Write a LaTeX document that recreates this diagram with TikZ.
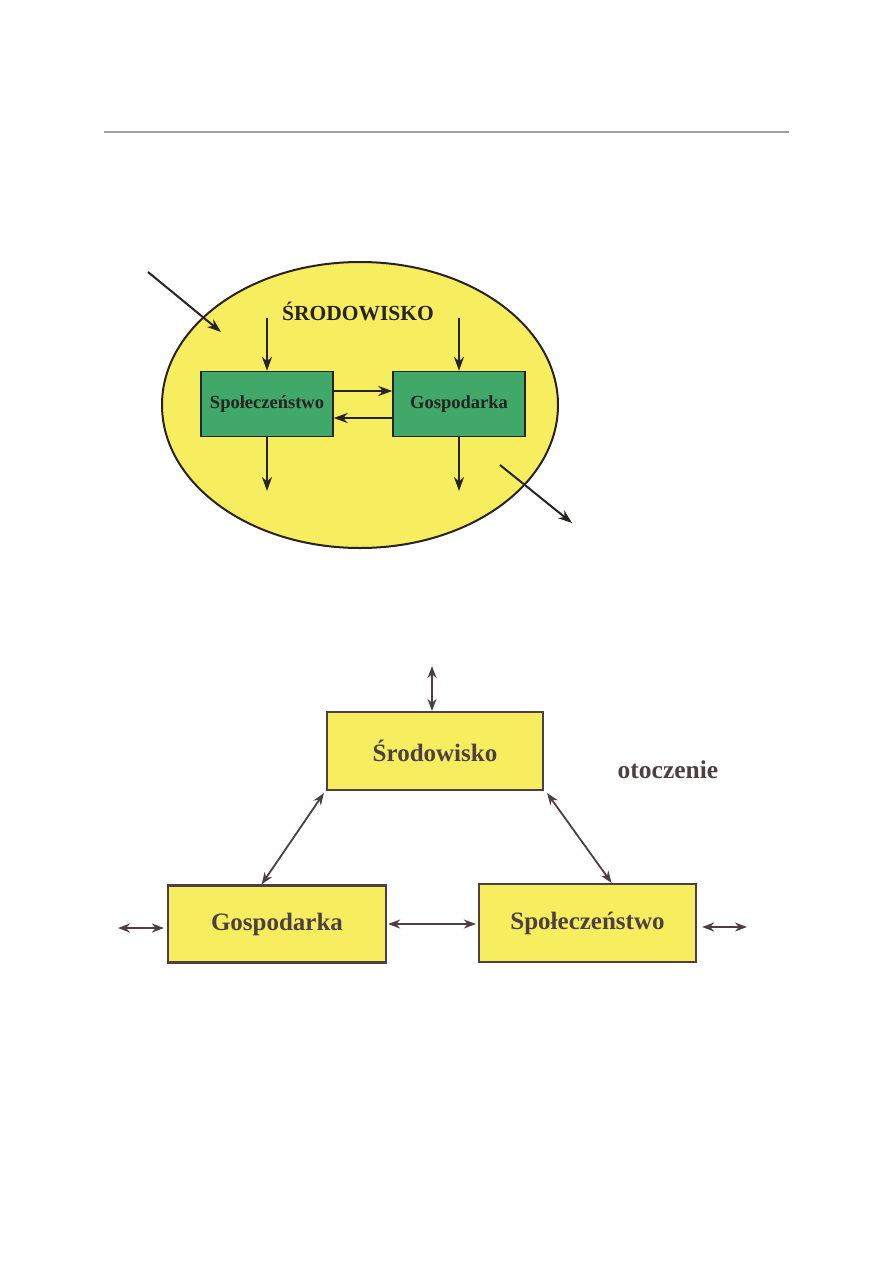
\documentclass[tikz,border=0pt]{standalone}
\usepackage{fontspec}
\setmainfont{Liberation Serif}
\usepackage{tikz}
\usetikzlibrary{arrows.meta, positioning, shapes.geometric, calc}

\definecolor{envyellow}{RGB}{247,238,95}
\definecolor{boxgreen}{RGB}{64,168,104}
\definecolor{darkink}{RGB}{40,34,34}
\definecolor{greyink}{RGB}{78,64,66}
\definecolor{rulegrey}{RGB}{160,160,160}

\begin{document}
\begin{tikzpicture}[
    x=1pt, y=-1pt,
    envnode/.style={ellipse, draw=darkink, fill=envyellow, line width=2pt, minimum width=396pt, minimum height=286pt},
    greenbox/.style={draw=darkink, fill=boxgreen, line width=1.4pt, minimum width=132pt, minimum height=65pt, inner sep=0pt, font=\fontsize{18.5}{20}\selectfont\bfseries, text=darkink},
    yellowbox/.style={draw=greyink, fill=envyellow, line width=2.2pt, minimum width=217pt, minimum height=78pt, inner sep=0pt, font=\fontsize{25}{27}\selectfont\bfseries, text=greyink},
    arrow/.style={-{Stealth[length=14pt, width=10pt]}, line width=2pt, darkink},
    twoway/.style={{Stealth[length=12pt, width=9pt]}-{Stealth[length=12pt, width=9pt]}, line width=1.8pt, greyink}
]
    \useasboundingbox (0,0) rectangle (893,1263);

    % rule at the head of the page
    \coordinate (ruleL) at (104,132);
    \coordinate (ruleR) at (789,132);
    \draw[rulegrey, line width=1.5pt] (ruleL) -- (ruleR);

    % upper picture: the environment holds society and economy
    \node[envnode] (env) at (360,405) {};
    \node[font=\fontsize{21.5}{23}\selectfont\bfseries, text=darkink] (envlabel) at (358,311) {ŚRODOWISKO};
    \node[greenbox] (society) at (267,404) {Społeczeństwo};
    \node[greenbox] (economy) at (459,404) {Gospodarka};

    \coordinate (societyIn) at (267,318);
    \coordinate (economyIn) at (459,318);
    \coordinate (societyOut) at (267,491);
    \coordinate (economyOut) at (459,491);
    \draw[arrow] (societyIn) -- (society.north);
    \draw[arrow] (economyIn) -- (economy.north);
    \draw[arrow] (society.south) -- (societyOut);
    \draw[arrow] (economy.south) -- (economyOut);
    \draw[arrow] ([yshift=13pt]society.east) -- ([yshift=13pt]economy.west);
    \draw[arrow] ([yshift=-14pt]economy.west) -- ([yshift=-14pt]society.east);

    % flows into and out of the environment
    \coordinate (inflowA) at (148,272);
    \coordinate (inflowB) at (221,332);
    \coordinate (outflowA) at (500,465);
    \coordinate (outflowB) at (572,523);
    \draw[arrow] (inflowA) -- (inflowB);
    \draw[arrow] (outflowA) -- (outflowB);

    % lower picture: three linked systems
    \node[yellowbox, minimum width=216pt] (envbox) at (435,751) {Środowisko};
    \node[yellowbox, minimum width=218pt, minimum height=77pt] (econbox) at (277,924) {Gospodarka};
    \node[yellowbox] (socbox) at (587.5,923) {Społeczeństwo};
    \node[font=\fontsize{25.5}{27}\selectfont\bfseries, text=greyink] (surround) at (668,770) {otoczenie};

    \coordinate (envTop) at (432,666);
    \coordinate (econLeft) at (118,928);
    \coordinate (socRight) at (747,927);
    \draw[twoway] (envTop) -- (envTop |- envbox.north);
    \draw[twoway] ([shift={(-2pt,-2pt)}]envbox.south west) -- ($(econbox.north west)!0.43!(econbox.north east)$);
    \draw[twoway] ([shift={(3pt,-2pt)}]envbox.south east) -- ($(socbox.north west)!0.61!(socbox.north east)$);
    \draw[twoway, shorten <=1pt, shorten >=2pt] (econbox.east) -- (econbox.east -| socbox.west);
    \draw[twoway, shorten >=3pt] (econLeft) -- (econLeft -| econbox.west);
    \draw[twoway, shorten >=5pt] (socRight) -- (socRight -| socbox.east);
\end{tikzpicture}
\end{document}
